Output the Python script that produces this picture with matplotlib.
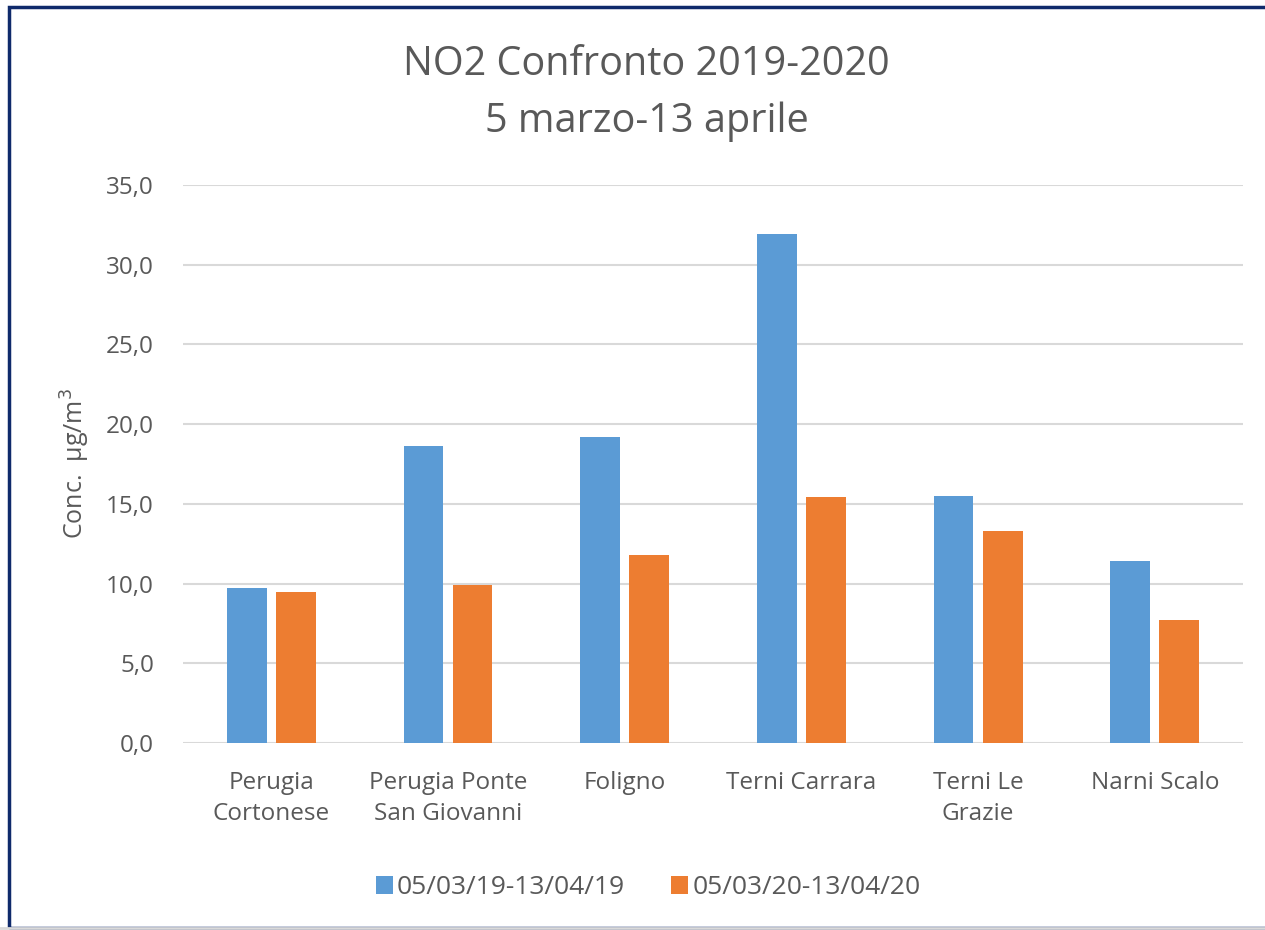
import numpy as np
import matplotlib
matplotlib.use("Agg")
import matplotlib.pyplot as plt
from matplotlib.patches import Rectangle

# Dati NO2 (media 5 marzo - 13 aprile)
stazioni = ["Perugia\nCortonese", "Perugia Ponte\nSan Giovanni", "Foligno",
            "Terni Carrara", "Terni Le\nGrazie", "Narni Scalo"]
conc_2019 = [9.7, 18.6, 19.2, 31.9, 15.5, 11.4]
conc_2020 = [9.5, 9.9, 11.8, 15.4, 13.3, 7.7]
serie = ["05/03/19-13/04/19", "05/03/20-13/04/20"]
tick_y = [0, 5, 10, 15, 20, 25, 30, 35]

plt.rcParams['font.family'] = ['Open Sans', 'DejaVu Sans']
grigio = '#595959'

fig = plt.figure(figsize=(12.65, 9.3), dpi=100)
ax = fig.add_axes([0.1447, 0.2011, 0.838, 0.6])

x = np.arange(len(stazioni))
larg = 0.225
ax.bar(x - 0.139, conc_2019, width=larg, color='#5b9bd5', label=serie[0], zorder=3)
ax.bar(x + 0.139, conc_2020, width=larg, color='#ed7d31', label=serie[1], zorder=3)

ax.set_xlim(-0.5, len(stazioni) - 0.5)
ax.set_ylim(0, 35)
ax.set_yticks(tick_y)
ax.set_yticklabels([f"{v:.1f}".replace('.', ',') for v in tick_y])
ax.set_xticks(x)
ax.set_xticklabels(stazioni, linespacing=1.4)
ax.tick_params(axis='y', length=0, pad=21, labelsize=17.5, labelcolor=grigio)
ax.tick_params(axis='x', length=0, pad=20, labelsize=17.5, labelcolor=grigio)
ax.grid(axis='y', color='#d9d9d9', linewidth=1.5, zorder=0)
for s in ax.spines.values():
    s.set_visible(False)

ax.set_ylabel("Conc.  μg/m$^3$", fontsize=18, color=grigio, labelpad=10)
fig.suptitle("NO2 Confronto 2019-2020\n5 marzo-13 aprile", x=0.511, y=0.952,
             fontsize=28.5, color=grigio, linespacing=1.55)

ax.legend(loc='center', bbox_to_anchor=(0.4387, -0.259), ncol=2, frameon=False,
          fontsize=19, labelcolor=grigio, handlelength=0.65, handleheight=0.65,
          handletextpad=0.15, columnspacing=1.75)

# cornice blu
fig.patches.append(Rectangle((0.0075, 0.002), 1.0, 0.99, transform=fig.transFigure,
                             fill=False, edgecolor='#0f2a6b', linewidth=2.5))
fig.add_artist(plt.Line2D([0, 1], [0.002, 0.002], color='#d9d9d9', lw=2,
                          transform=fig.transFigure))

fig.savefig("out.png", dpi=100)
